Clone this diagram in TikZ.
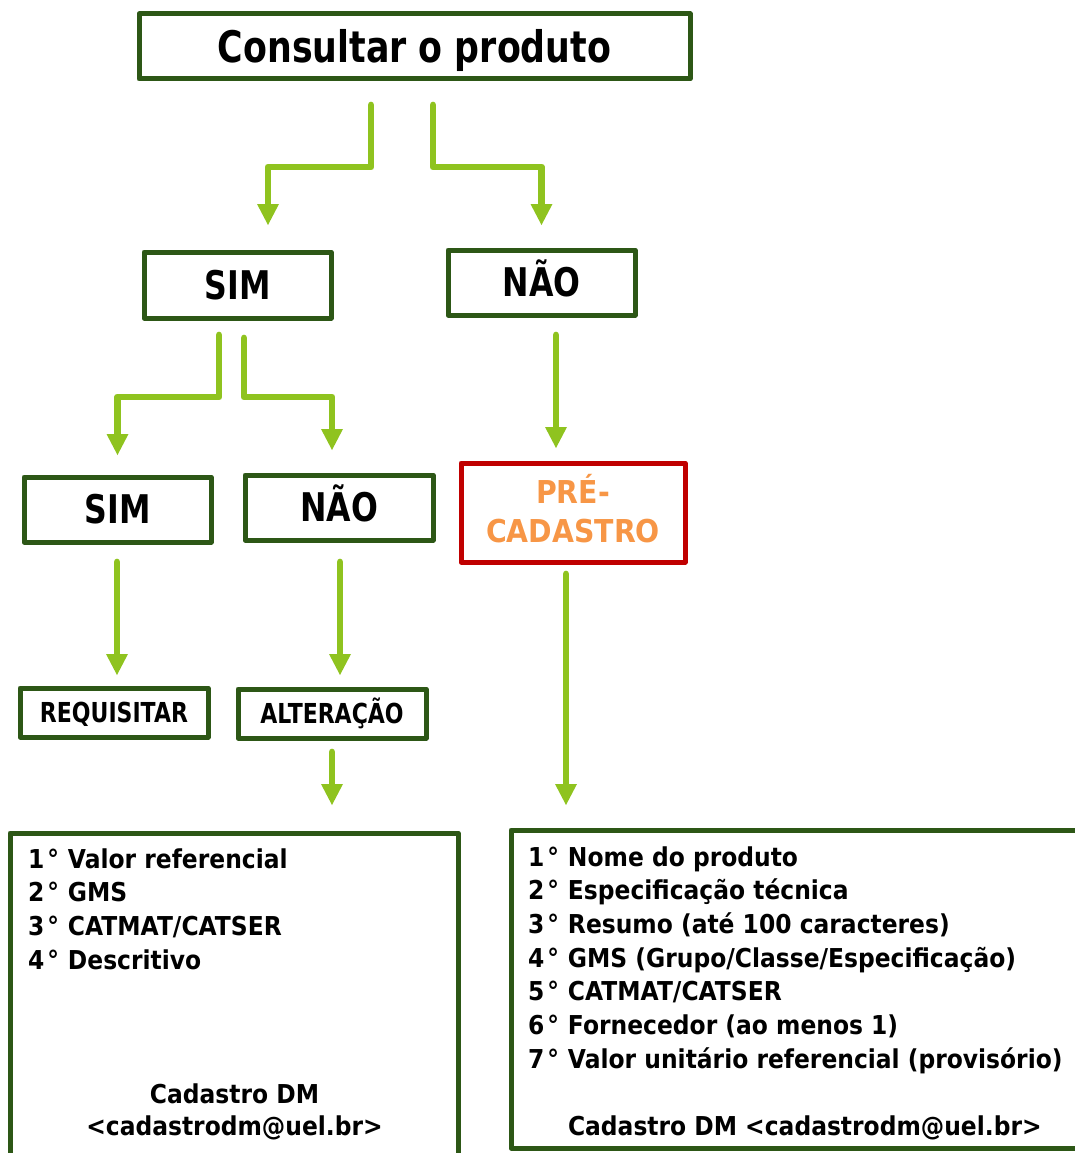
\documentclass[tikz,border=0pt]{standalone}
\usepackage{fontspec}
\setmainfont{DejaVu Sans}[FakeStretch=0.9]
\newfontfamily\capfont{DejaVu Sans}[FakeStretch=0.8]
\usetikzlibrary{arrows.meta,calc}
\definecolor{boxgreen}{HTML}{2D5716}
\definecolor{arrgreen}{HTML}{8FC31F}
\definecolor{prered}{HTML}{C00000}
\definecolor{preorange}{HTML}{F79646}
\tikzset{
  x=1pt, y=-1pt,
  box/.style={draw=boxgreen, line width=5pt, line join=round, rectangle, inner sep=0pt, outer sep=0pt, text=black, align=center, text depth=0pt},
  titletxt/.style={font=\capfont\bfseries\fontsize{43.5}{50}\selectfont, text height=31.7pt},
  bigtxt/.style={font=\capfont\bfseries\fontsize{39.5}{46}\selectfont, text height=28.8pt},
  midtxt/.style={font=\capfont\bfseries\fontsize{27.5}{32}\selectfont, text height=20pt},
  pretxt/.style={font=\bfseries\fontsize{31.5}{40}\selectfont, text=preorange, inner sep=0pt, anchor=base},
  listtxt/.style={font=\bfseries\fontsize{26}{33.7}\selectfont, inner sep=0pt, outer sep=0pt, anchor=base west, text=black},
  arr/.style={draw=arrgreen, line width=6.7pt, line cap=round, line join=round,
    -{Triangle[width=22pt,length=21pt,line width=0pt]}},
}
\newcommand{\nr}[1]{\makebox[40pt][l]{#1\kern3pt°}}
\begin{document}
\begin{tikzpicture}
\useasboundingbox (0,0) rectangle (1075,1153);
\clip (0,0) rectangle (1075,1153);
% boxes
\node[box, titletxt, minimum width=551pt, minimum height=65pt] (top) at (414.5,46.5) {Consultar o produto};
\node[box, bigtxt, minimum width=187pt, minimum height=66pt] (sim1) at (237.5,285) {SIM};
\node[box, bigtxt, minimum width=187pt, minimum height=65pt] (nao1) at (541.5,282.5) {NÃO};
\node[box, bigtxt, minimum width=187pt, minimum height=65pt] (sim2) at (117.5,509.5) {SIM};
\node[box, bigtxt, minimum width=188pt, minimum height=65pt] (nao2) at (339,507.5) {NÃO};
\node[box, draw=prered, minimum width=224pt, minimum height=99pt] (pre) at (573,512.5) {};
\node[pretxt] (pre1) at (573,503.3) {PRÉ-};
\node[pretxt] (pre2) at (573,542.5) {CADASTRO};
\node[box, midtxt, minimum width=188pt, minimum height=49pt] (req) at (114,712.5) {REQUISITAR};
\node[box, midtxt, minimum width=188pt, minimum height=49pt] (alt) at (332,713.5) {ALTERAÇÃO};
\node[box, minimum width=448pt, minimum height=342pt] (lbox) at (234,1004) {};
\node[box, minimum width=579pt, minimum height=318pt] (rbox) at (800.5,989) {};
% arrows
\draw[arr] ([xshift=-43.5pt,yshift=-26pt]top.south) -- ++(0,62) -| ([xshift=30.5pt,yshift=27pt]sim1.north);
\draw[arr] ([xshift=18.5pt,yshift=-26pt]top.south) -- ++(0,62) -| ([yshift=25pt]nao1.north);
\draw[arr] ([xshift=-18.5pt,yshift=-17pt]sim1.south) -- ++(0,62) -| ([yshift=22pt]sim2.north);
\draw[arr] ([xshift=6.5pt,yshift=-20pt]sim1.south) -- ++(0,59) -| ([xshift=-7pt,yshift=25pt]nao2.north);
\draw[arr] ([xshift=14.5pt,yshift=-20pt]nao1.south) -- ([xshift=-17pt,yshift=15pt]pre.north);
\draw[arr] ([xshift=-0.5pt,yshift=-20pt]sim2.south) -- ([xshift=3pt,yshift=13pt]req.north);
\draw[arr] ([xshift=1pt,yshift=-22pt]nao2.south) -- ([xshift=8pt,yshift=14pt]alt.north);
\draw[arr] ([xshift=-7pt,yshift=-12pt]pre.south) -- ([xshift=-234.5pt,yshift=25pt]rbox.north);
\draw[arr] ([yshift=-14pt]alt.south) -- ([xshift=98pt,yshift=28pt]lbox.north);
% left list
\node[listtxt] (l1) at (28,868.3) {\nr{1}Valor referencial};
\node[listtxt] (l2) at (28,901.9) {\nr{2}GMS};
\node[listtxt] (l3) at (28,935.5) {\nr{3}CATMAT/CATSER};
\node[listtxt] (l4) at (28,969.1) {\nr{4}Descritivo};
\node[listtxt, anchor=base] (l5) at (234.5,1103.3) {Cadastro DM};
\node[listtxt, anchor=base] (l6) at (234.5,1135.5) {<cadastrodm@uel.br>};
% right list
\node[listtxt] (r1) at (528,866) {\nr{1}Nome do produto};
\node[listtxt] (r2) at (528,899.7) {\nr{2}Especificação técnica};
\node[listtxt] (r3) at (528,933.4) {\nr{3}Resumo (até 100 caracteres)};
\node[listtxt] (r4) at (528,967.1) {\nr{4}GMS (Grupo/Classe/Especificação)};
\node[listtxt] (r5) at (528,1000.8) {\nr{5}CATMAT/CATSER};
\node[listtxt] (r6) at (528,1034.5) {\nr{6}Fornecedor (ao menos 1)};
\node[listtxt] (r7) at (528,1068.2) {\nr{7}Valor unitário referencial (provisório)};
\node[listtxt] (r8) at (568,1135.5) {Cadastro DM <cadastrodm@uel.br>};
\end{tikzpicture}
\end{document}
